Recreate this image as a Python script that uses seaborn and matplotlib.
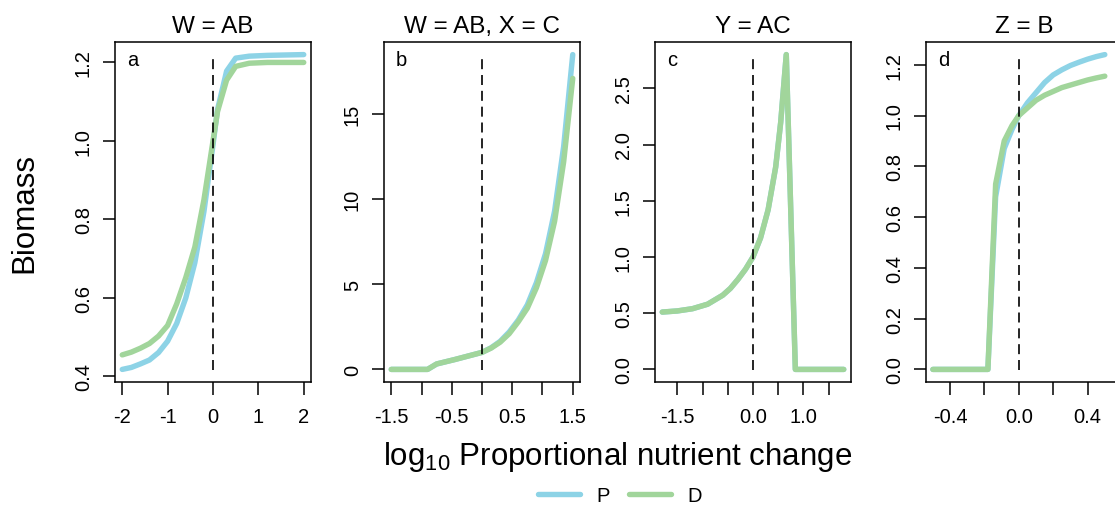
import numpy as np
import pandas as pd
import matplotlib.pyplot as plt
import seaborn as sns
from matplotlib.lines import Line2D

# panel a : W = AB
x_a = [-2.0, -1.8, -1.6, -1.4, -1.2, -1.0, -0.8, -0.6, -0.4, -0.2, 0.0, 0.1, 0.3, 0.5, 0.8, 1.2, 1.6, 2.0]
p_a = [0.418, 0.423, 0.432, 0.442, 0.461, 0.490, 0.535, 0.600, 0.690, 0.820, 0.990, 1.080, 1.178, 1.211, 1.216, 1.218, 1.219, 1.220]
d_a = [0.455, 0.462, 0.472, 0.484, 0.503, 0.530, 0.585, 0.652, 0.730, 0.850, 1.000, 1.075, 1.155, 1.190, 1.198, 1.200, 1.200, 1.200]

# panel b : W = AB, X = C
x_b = [-1.5, -1.35, -1.2, -1.05, -0.9, -0.75, -0.6, -0.45, -0.3, -0.15, 0.0, 0.15, 0.3, 0.45, 0.6, 0.75, 0.9, 1.05, 1.2, 1.35, 1.5]
p_b = [0, 0, 0, 0, 0, 0.32, 0.45, 0.58, 0.72, 0.86, 1.0, 1.27, 1.65, 2.2, 2.9, 3.8, 5.1, 6.8, 9.3, 13.1, 18.5]
d_b = [0, 0, 0, 0, 0, 0.32, 0.45, 0.58, 0.72, 0.86, 1.0, 1.25, 1.6, 2.1, 2.8, 3.6, 4.8, 6.4, 8.7, 12.2, 17.1]

# panel c : Y = AC
x_c = [-1.8, -1.5, -1.2, -0.9, -0.6, -0.45, -0.3, -0.15, 0.0, 0.15, 0.3, 0.45, 0.55, 0.66, 0.84, 1.2, 1.5, 1.8]
p_c = [0.51, 0.52, 0.54, 0.58, 0.66, 0.72, 0.80, 0.89, 1.0, 1.17, 1.42, 1.80, 2.20, 2.80, 0, 0, 0, 0]
d_c = [0.51, 0.52, 0.54, 0.58, 0.66, 0.72, 0.80, 0.89, 1.0, 1.17, 1.42, 1.80, 2.20, 2.80, 0, 0, 0, 0]

# panel d : Z = B
x_d = [-0.5, -0.4, -0.3, -0.18, -0.135, -0.085, -0.04, 0.0, 0.05, 0.1, 0.15, 0.2, 0.25, 0.3, 0.35, 0.4, 0.45, 0.5]
p_d = [0, 0, 0, 0, 0.68, 0.87, 0.945, 1.0, 1.05, 1.09, 1.13, 1.16, 1.18, 1.197, 1.21, 1.222, 1.232, 1.24]
d_d = [0, 0, 0, 0, 0.73, 0.90, 0.960, 1.0, 1.03, 1.06, 1.08, 1.095, 1.11, 1.12, 1.13, 1.14, 1.148, 1.155]

titles = ["W = AB", "W = AB, X = C", "Y = AC", "Z = B"]
letters = ["a", "b", "c", "d"]

xticks = [[-2, -1, 0, 1, 2],
          [-1.5, -1, -0.5, 0, 0.5, 1, 1.5],
          [-1.5, -1, -0.5, 0, 0.5, 1, 1.5],
          [-0.4, -0.2, 0, 0.2, 0.4, 0.6]]
xlabs = [["-2", "-1", "0", "1", "2"],
         ["-1.5", "", "-0.5", "", "0.5", "", "1.5"],
         ["-1.5", "", "", "0.0", "", "1.0", ""],
         ["-0.4", "", "0.0", "", "0.4", ""]]
yticks = [[0.4, 0.6, 0.8, 1.0, 1.2],
          [0, 5, 10, 15],
          [0.0, 0.5, 1.0, 1.5, 2.0, 2.5],
          [0.0, 0.2, 0.4, 0.6, 0.8, 1.0, 1.2]]
ylabs = [["0.4", "0.6", "0.8", "1.0", "1.2"],
         ["0", "5", "10", "15"],
         ["0.0", "0.5", "1.0", "1.5", "2.0", "2.5"],
         ["0.0", "0.2", "0.4", "0.6", "0.8", "1.0", "1.2"]]

sns.set_theme(style="ticks")
plt.rcParams['font.family'] = ['Liberation Sans', 'DejaVu Sans']
plt.rcParams['mathtext.fontset'] = 'custom'
plt.rcParams['mathtext.rm'] = 'Liberation Sans'
plt.rcParams['text.color'] = 'black'
plt.rcParams['axes.titlecolor'] = 'black'

cols = {'P': '#8dd3e6', 'D': '#a1d59b'}

fig = plt.figure(figsize=(11.15, 5.1), dpi=100)
lefts = [115, 384, 655, 926]
axes = [fig.add_axes([l / 1115, 127 / 510, 196 / 1115, 340 / 510]) for l in lefts]

panels = [(x_a, p_a, d_a), (x_b, p_b, d_b), (x_c, p_c, d_c), (x_d, p_d, d_d)]
for i, ax in enumerate(axes):
    x, p, d = panels[i]
    df = pd.DataFrame({'x': list(x) * 2,
                       'y': list(p) + list(d),
                       'model': ['P'] * len(x) + ['D'] * len(x)})
    sns.lineplot(data=df, x='x', y='y', hue='model', hue_order=['P', 'D'],
                 palette=cols, lw=3.9, estimator=None, legend=False,
                 solid_capstyle='round', ax=ax)
    ax.axvline(0, ymin=0.035, ymax=0.963, color='black', lw=1.2, ls=(0, (6, 3.5)))
    ax.margins(0.04)
    ax.set_xticks(xticks[i])
    ax.set_xticklabels(xlabs[i])
    ax.set_yticks(yticks[i])
    ax.set_yticklabels(ylabs[i], rotation=90, va='center')
    ax.set_xlabel('')
    ax.set_ylabel('')
    ax.set_title(titles[i], fontsize=17.5, pad=7, color='black')
    ax.text(0.06, 0.975, letters[i], transform=ax.transAxes, ha='left', va='top',
            fontsize=14.5, color='black')
    ax.tick_params(axis='both', direction='out', length=9, width=1.1,
                   labelsize=14.5, color='black', labelcolor='black')
    ax.tick_params(axis='x', pad=9)
    ax.tick_params(axis='y', pad=7)
    for s in ax.spines.values():
        s.set_color('black')
        s.set_linewidth(1.1)

fig.text(24 / 1115, 1 - 213 / 510, 'Biomass', rotation=90, ha='center', va='center',
         fontsize=22.5, color='black')
fig.text(618 / 1115, 1 - 457 / 510, r'$\mathregular{log_{10}}$ Proportional nutrient change',
         ha='center', va='center', fontsize=22.5, color='black')

handles = [Line2D([], [], color=cols['P'], lw=3.9, solid_capstyle='round'),
           Line2D([], [], color=cols['D'], lw=3.9, solid_capstyle='round')]
leg = fig.legend(handles, ['P', 'D'], loc='center', bbox_to_anchor=(620 / 1115, 1 - 497 / 510),
                 ncol=2, frameon=False, fontsize=14.5, handlelength=2.1,
                 handletextpad=0.8, columnspacing=0.95)
for t in leg.get_texts():
    t.set_color('black')

fig.savefig('out.png', dpi=100)
